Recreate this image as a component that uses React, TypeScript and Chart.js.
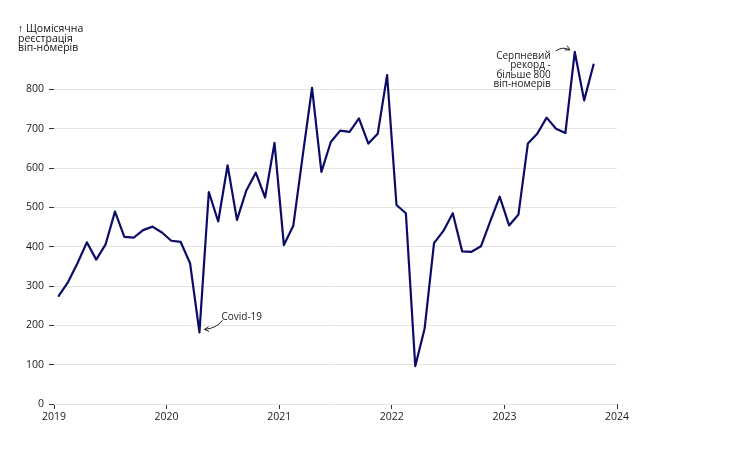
import { useEffect, useRef } from "react";
import { Chart, registerables } from "chart.js";

Chart.register(...registerables);

const START_YEAR = 2019;
const END_YEAR = 2024;
// Monthly VIP-plate registrations, Jan 2019 .. Oct 2023 (plotted mid-month)
const monthlyRegistrations = [
  275, 310, 358, 411, 367, 406, 489, 425, 423, 442, 451, 436,
  415, 412, 358, 182, 539, 464, 607, 468, 543, 588, 525, 664,
  404, 453, 630, 804, 590, 666, 695, 692, 726, 662, 687, 836,
  506, 485, 96, 192, 409, 440, 485, 388, 387, 401, 465, 527,
  454, 482, 662, 687, 728, 700, 689, 895, 772, 863,
];
const yTicks = [0, 100, 200, 300, 400, 500, 600, 700, 800];
const yTitleLines = ["↑ Щомісячна", "реєстрація", "віп-номерів"];
const covidIndex = 15;
const covidLabel = "Covid-19";
const recordIndex = 55;
const recordLines = ["Серпневий", "рекорд -", "більше 800", "віп-номерів"];

const LINE_COLOR = "#0c0c68";
const TEXT_COLOR = "#1a1a1a";
const FONT = "'Open Sans', sans-serif";
const TICK_FONT = "'Liberation Sans Narrow', 'Open Sans', sans-serif";

const monthX = (i: number) => START_YEAR + (i + 0.5) / 12;

function arrow(ctx: CanvasRenderingContext2D, x0: number, y0: number, cx: number, cy: number, x1: number, y1: number) {
  ctx.beginPath();
  ctx.moveTo(x0, y0);
  ctx.quadraticCurveTo(cx, cy, x1, y1);
  ctx.stroke();
  const ang = Math.atan2(y1 - cy, x1 - cx);
  const len = 5;
  ctx.beginPath();
  ctx.moveTo(x1 - len * Math.cos(ang - 0.5), y1 - len * Math.sin(ang - 0.5));
  ctx.lineTo(x1, y1);
  ctx.lineTo(x1 - len * Math.cos(ang + 0.5), y1 - len * Math.sin(ang + 0.5));
  ctx.stroke();
}

const annotationPlugin = {
  id: "annotations",
  afterDraw(chart: any) {
    const ctx: CanvasRenderingContext2D = chart.ctx;
    const xs = chart.scales.x;
    const ys = chart.scales.y;
    ctx.save();
    // y title
    ctx.fillStyle = "#111";
    ctx.font = `10.5px ${FONT}`;
    ctx.textAlign = "left";
    ctx.textBaseline = "middle";
    yTitleLines.forEach((t, i) => ctx.fillText(t, 18, 29 + i * 9.6));

    // Covid annotation
    const cx = xs.getPixelForValue(monthX(covidIndex));
    const cy = ys.getPixelForValue(monthlyRegistrations[covidIndex]);
    ctx.font = `10px ${FONT}`;
    ctx.fillStyle = TEXT_COLOR;
    ctx.textAlign = "left";
    ctx.fillText(covidLabel, cx + 22, cy - 15);
    ctx.strokeStyle = "#222";
    ctx.lineWidth = 1;
    arrow(ctx, cx + 23, cy - 12, cx + 17, cy - 4, cx + 5, cy - 3);

    // Record annotation
    const rx = xs.getPixelForValue(monthX(recordIndex));
    const ry = ys.getPixelForValue(monthlyRegistrations[recordIndex]);
    ctx.textAlign = "right";
    recordLines.forEach((t, i) => ctx.fillText(t, rx - 24, ry + 4 + i * 9.4));
    arrow(ctx, rx - 19, ry - 1, rx - 12, ry - 6, rx - 5, ry - 2);
    ctx.restore();
  },
};

export default function App() {
  const ref = useRef<HTMLCanvasElement | null>(null);
  useEffect(() => {
    if (!ref.current) return;
    const points = monthlyRegistrations.map((v, i) => ({ x: monthX(i), y: v }));
    const chart = new Chart(ref.current, {
      type: "line",
      data: {
        datasets: [
          {
            data: points,
            borderColor: LINE_COLOR,
            borderWidth: 2.2,
            borderJoinStyle: "round",
            borderCapStyle: "round",
            pointRadius: 0,
            tension: 0,
            fill: false,
          },
        ],
      },
      options: {
        animation: false,
        responsive: false,
        maintainAspectRatio: false,
        layout: { padding: { top: 50, right: 123, left: 0, bottom: 0 } },
        plugins: { legend: { display: false }, tooltip: { enabled: false } },
        scales: {
          x: {
            type: "linear",
            min: START_YEAR,
            max: END_YEAR,
            afterFit: (s: any) => {
              s.height = 46;
            },
            border: { display: false },
            grid: { drawOnChartArea: false, drawTicks: true, tickLength: 5, tickColor: "#333", lineWidth: 1 },
            ticks: {
              stepSize: 1,
              color: TEXT_COLOR,
              padding: 2,
              maxRotation: 0,
              font: { family: TICK_FONT, size: 10.5 },
              callback: (v: any) => String(v),
            },
          },
          y: {
            min: 0,
            max: 900,
            afterFit: (s: any) => {
              s.width = 54;
            },
            afterBuildTicks: (s: any) => {
              s.ticks = yTicks.map((v) => ({ value: v }));
            },
            border: { display: false },
            grid: { color: "#e4e4e4", lineWidth: 1, tickLength: 5, tickColor: "#333" },
            ticks: {
              color: TEXT_COLOR,
              padding: 5,
              font: { family: TICK_FONT, size: 10.5 },
              callback: (v: any) => String(v),
            },
          },
        },
      },
      plugins: [annotationPlugin],
    });
    return () => chart.destroy();
  }, []);
  return (
    <div style={{ position: "fixed", left: 0, top: 0, width: 740, height: 450, background: "#fff" }}>
      <canvas ref={ref} width={740} height={450} style={{ width: 740, height: 450 }} />
    </div>
  );
}
